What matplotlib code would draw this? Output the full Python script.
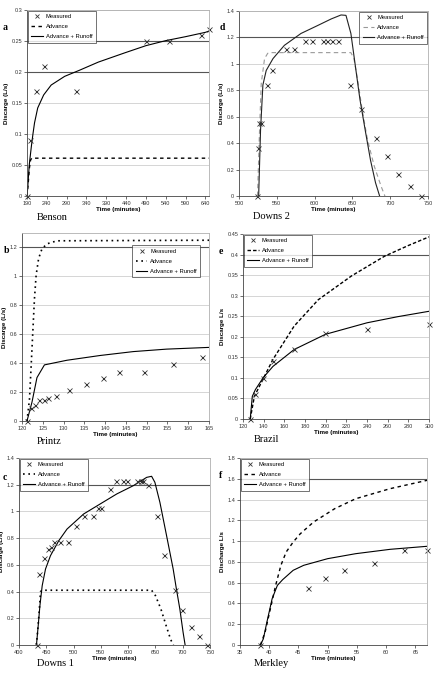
import numpy as np
import matplotlib
matplotlib.use('Agg')
import matplotlib.pyplot as plt
from matplotlib.lines import Line2D
from matplotlib.ticker import FormatStrFormatter

plt.rcParams['font.family'] = ['Liberation Sans', 'DejaVu Sans']

# ---- a: Benson ----
benson_meas_t = [190, 198.5, 213, 232, 312.5, 490, 547, 628, 648]
benson_meas_q = [0, 0.09, 0.17, 0.21, 0.17, 0.25, 0.25, 0.26, 0.27]
benson_run_t = [190, 192, 194, 196, 198.5, 201, 205, 209, 217, 232, 251, 285, 323, 370, 437, 490, 540, 590, 640, 649]
benson_run_q = [0, 0.015, 0.035, 0.052, 0.066, 0.08, 0.1, 0.118, 0.142, 0.163, 0.179, 0.193, 0.203, 0.216, 0.231, 0.2425, 0.2506, 0.257, 0.264, 0.266]
benson_adv_t = [190, 193, 196, 199, 202, 649]
benson_adv_q = [0, 0.02, 0.045, 0.058, 0.061, 0.061]

# ---- d: Downs 2 ----
downs2_meas_t = [524, 525.5, 526, 529, 537, 544, 562, 572.5, 587, 596, 611, 617, 623, 631, 647, 662, 681.5, 696, 710.6, 726, 741]
downs2_meas_q = [0, 0.36, 0.55, 0.55, 0.84, 0.95, 1.11, 1.11, 1.17, 1.17, 1.17, 1.17, 1.17, 1.17, 0.84, 0.656, 0.44, 0.30, 0.17, 0.073, 0]
downs2_run_t = [526, 528.5, 531.6, 536, 545, 560, 582, 604, 622, 635, 641.5, 648, 654, 660, 667.5, 674, 680.6, 686]
downs2_run_q = [0, 0.5, 0.84, 0.95, 1.04, 1.14, 1.23, 1.29, 1.34, 1.37, 1.367, 1.23, 0.98, 0.73, 0.48, 0.27, 0.1, 0]
downs2_adv_t = [524.5, 527, 529.4, 533.8, 538, 542, 648, 652, 657, 663, 670, 679, 688, 693]
downs2_adv_q = [0, 0.47, 0.85, 1.04, 1.08, 1.085, 1.085, 1.04, 0.877, 0.65, 0.425, 0.224, 0.073, 0]

# ---- b: Printz ----
printz_meas_t = [121.2, 122.2, 123.1, 124.1, 125.2, 126.2, 128.2, 131.2, 135.4, 139.4, 143.4, 149.4, 156.3, 163.4]
printz_meas_q = [0, 0.088, 0.113, 0.148, 0.148, 0.16, 0.176, 0.215, 0.254, 0.298, 0.342, 0.342, 0.393, 0.44]
printz_run_t = [121.2, 122.4, 123.6, 125.4, 130.8, 138.8, 146.8, 154.8, 165]
printz_run_q = [0, 0.13, 0.30, 0.388, 0.42, 0.453, 0.48, 0.497, 0.509]
printz_adv_t = [121.2, 121.8, 122.2, 122.6, 123, 123.4, 124, 124.8, 126, 128.4, 165]
printz_adv_q = [0, 0.15, 0.38, 0.615, 0.846, 1.008, 1.124, 1.19, 1.225, 1.246, 1.25]

# ---- e: Brazil ----
brazil_meas_t = [127, 132, 139.4, 149, 169.5, 199.8, 240, 300]
brazil_meas_q = [0, 0.061, 0.1, 0.14, 0.17, 0.21, 0.22, 0.231]
brazil_run_t = [127, 129, 132, 139.4, 149, 169.5, 199.8, 240, 270, 300]
brazil_run_q = [0, 0.055, 0.0715, 0.1, 0.128, 0.169, 0.206, 0.234, 0.249, 0.262]
brazil_adv_t = [127, 131, 139.4, 149, 169.5, 192.8, 225, 257, 280, 300]
brazil_adv_q = [0, 0.055, 0.097, 0.145, 0.226, 0.29, 0.348, 0.396, 0.422, 0.443]

# ---- c: Downs 1 ----
downs1_meas_t = [432.2, 437.1, 445, 454, 458.3, 464.4, 474.7, 489.3, 503.9, 519.1, 536.1, 544, 550, 567, 578,
                 591.4, 598.7, 616.9, 623, 627.8, 637, 652.1, 666.1, 686.1, 699.5, 715.3, 729.9, 745.1]
downs1_meas_q = [0, 0.529, 0.654, 0.721, 0.736, 0.769, 0.769, 0.769, 0.891, 0.968, 0.968, 1.026, 1.026, 1.165, 1.228,
                 1.228, 1.228, 1.228, 1.228, 1.228, 1.198, 0.968, 0.676, 0.412, 0.26, 0.132, 0.067, 0]
downs1_run_t = [432, 435.2, 438.3, 442.5, 448.6, 457.7, 472.9, 488, 518.5, 548.8, 579.2, 609.6, 633.9, 643, 649,
                658.2, 670.4, 682.5, 688, 694.7, 700.7, 704.4]
downs1_run_q = [0, 0.145, 0.294, 0.444, 0.569, 0.669, 0.781, 0.868, 0.981, 1.056, 1.131, 1.193, 1.255, 1.263, 1.218,
                1.068, 0.819, 0.569, 0.43, 0.27, 0.095, 0]
downs1_adv_t = [432, 436.5, 439.5, 442.5, 643, 650, 660, 670, 678, 683]
downs1_adv_q = [0, 0.22, 0.40, 0.41, 0.41, 0.37, 0.27, 0.14, 0.04, 0]

# ---- f: Merkley ----
merkley_meas_t = [38.5, 46.7, 49.6, 52.8, 58.0, 63.1, 67.0]
merkley_meas_q = [0, 0.549, 0.648, 0.719, 0.789, 0.911, 0.911]
merkley_run_t = [38.5, 39, 39.6, 40.5, 41.4, 42.3, 44.1, 45.9, 50, 54.8, 60.7, 67]
merkley_run_q = [0, 0.06, 0.22, 0.446, 0.574, 0.629, 0.719, 0.767, 0.831, 0.879, 0.921, 0.95]
merkley_adv_t = [38.5, 39.3, 40.2, 41.1, 42, 42.9, 44.1, 45.3, 47.6, 51.2, 54.8, 60.7, 67]
merkley_adv_q = [0, 0.125, 0.35, 0.574, 0.767, 0.895, 0.991, 1.07, 1.184, 1.312, 1.408, 1.505, 1.585]

W, H = 435, 678
fig = plt.figure(figsize=(W / 100, H / 100), dpi=100)


def px(x, y):
    # pixel position (from top-left) -> figure fraction
    return x / W, 1 - y / H


def panel(box, meas, run, adv, xlim, xstep, ylim, ystep, dark, ylabel, letter, letter_xy,
          name, name_xy, leg_kw, adv_style, adv_color='black', run_color='black'):
    x0, y0, x1, y1 = box
    ax = fig.add_axes([x0 / W, 1 - y1 / H, (x1 - x0) / W, (y1 - y0) / H])
    ax.set_xlim(*xlim)
    ax.set_ylim(*ylim)
    ax.set_xticks(np.arange(xlim[0], xlim[1] + 0.01, xstep))
    ax.set_yticks(np.arange(0, ylim[1] + 1e-9, ystep))
    ax.yaxis.set_major_formatter(FormatStrFormatter('%g'))
    ax.xaxis.set_major_formatter(FormatStrFormatter('%g'))
    ax.yaxis.grid(True, color='#cfcfcf', lw=0.6)
    ax.set_axisbelow(True)
    for v in dark:
        ax.axhline(v, color='#555555', lw=0.8, zorder=1)
    ax.tick_params(labelsize=4, length=2, width=0.5, pad=1.5, colors='#333333')
    for s in ['top', 'right']:
        ax.spines[s].set_color('#b0b0b0')
        ax.spines[s].set_linewidth(0.6)
    for s in ['left', 'bottom']:
        ax.spines[s].set_color('#444444')
        ax.spines[s].set_linewidth(0.6)
    ax.plot(adv[0], adv[1], color=adv_color, **adv_style)
    ax.plot(run[0], run[1], color=run_color, lw=0.8)
    ax.plot(meas[0], meas[1], 'x', color='#333333', ms=3.6, mew=0.6, clip_on=False)
    ax.set_xlabel('Time (minutes)', fontsize=4.5, fontweight='bold', labelpad=1)
    ax.set_ylabel(ylabel, fontsize=4.5, fontweight='bold', labelpad=1.5)
    handles = [
        Line2D([], [], ls='none', marker='x', color='#333333', ms=3, mew=0.6),
        Line2D([], [], color=adv_color, **adv_style),
        Line2D([], [], color=run_color, lw=0.8),
    ]
    leg = ax.legend(handles, ['Measured', 'Advance', 'Advance + Runoff'],
                    fontsize=4.2, frameon=True, fancybox=False, handlelength=2.0,
                    borderpad=0.6, labelspacing=0.85, handletextpad=0.5, **leg_kw)
    leg.get_frame().set_edgecolor('#333333')
    leg.get_frame().set_linewidth(0.6)
    fig.text(*px(*letter_xy), letter, fontsize=7, fontweight='bold',
             family='Liberation Serif', va='center')
    fig.text(*px(*name_xy), name, fontsize=7.5, family='Liberation Serif', va='center')
    return ax


dash_short = dict(ls=(0, (2.5, 2.5)), lw=1.0)
dotted = dict(ls=(0, (1, 2.2)), lw=1.2)

panel((27, 10, 209, 196),
      (benson_meas_t, benson_meas_q), (benson_run_t, benson_run_q), (benson_adv_t, benson_adv_q),
      (190, 649), 50, (0, 0.3), 0.05, [0.2, 0.25], 'Discarge (L/s)', 'a', (3, 28),
      'Benson', (37, 217), dict(loc='upper left', borderaxespad=0.1), dash_short)
panel((239, 11, 428, 196),
      (downs2_meas_t, downs2_meas_q), (downs2_run_t, downs2_run_q), (downs2_adv_t, downs2_adv_q),
      (500, 750), 50, (0, 1.4), 0.2, [1.2], 'Discarge (L/s)', 'd', (220, 28),
      'Downs 2', (253, 216), dict(loc='upper right', borderaxespad=0.1),
      dict(ls=(0, (4, 3)), lw=0.8), adv_color='#999999', run_color='#222222')
panel((22, 233, 209, 421),
      (printz_meas_t, printz_meas_q), (printz_run_t, printz_run_q), (printz_adv_t, printz_adv_q),
      (120, 165), 5, (0, 1.3), 0.2, [1.2], 'Discarge (L/s)', 'b', (4, 251),
      'Printz', (37, 441), dict(loc='upper right', bbox_to_anchor=(0.97, 0.95)), dotted)
panel((243, 234, 429, 419),
      (brazil_meas_t, brazil_meas_q), (brazil_run_t, brazil_run_q), (brazil_adv_t, brazil_adv_q),
      (120, 300), 20, (0, 0.45), 0.05, [0.4], 'Discarge L/s', 'e', (219, 252),
      'Brazil', (254, 440), dict(loc='upper left', borderaxespad=0.1),
      dict(ls=(0, (2.5, 1.5)), lw=1.0))
panel((19, 458, 210, 645),
      (downs1_meas_t, downs1_meas_q), (downs1_run_t, downs1_run_q), (downs1_adv_t, downs1_adv_q),
      (400, 750), 50, (0, 1.4), 0.2, [1.2], 'Discarge (L/s)', 'c', (3, 477),
      'Downs 1', (37, 664), dict(loc='upper left', borderaxespad=0.1), dotted)
panel((240, 458, 427, 645),
      (merkley_meas_t, merkley_meas_q), (merkley_run_t, merkley_run_q), (merkley_adv_t, merkley_adv_q),
      (35, 67), 5, (0, 1.8), 0.2, [1.6], 'Discharge L/s', 'f', (219, 476),
      'Merkley', (254, 664), dict(loc='upper left', borderaxespad=0.1), dash_short)

fig.savefig('out.png', dpi=100)
